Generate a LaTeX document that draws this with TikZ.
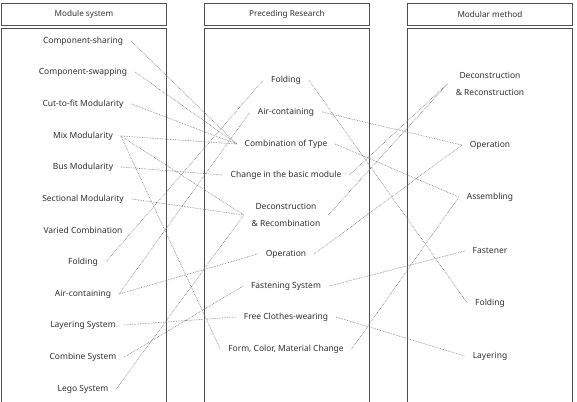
\documentclass[tikz,border=0pt]{standalone}
\usepackage{fontspec}
\setmainfont{Noto Sans}
\usetikzlibrary{positioning}
\definecolor{ink}{HTML}{2E2E2E}
\definecolor{rule}{HTML}{4D4D4D}
\definecolor{wire}{HTML}{7A7A7A}

\begin{document}
\begin{tikzpicture}[x=1bp,y=-1bp,
  head/.style={draw=rule,line width=0.9bp,minimum width=165bp,minimum height=22bp,
               anchor=north west,inner sep=0pt,text=ink,font=\fontsize{8.2}{9}\selectfont},
  body/.style={draw=rule,line width=0.9bp,minimum width=165bp,minimum height=374bp,
               anchor=north west,inner sep=0pt},
  item/.style={align=center,inner xsep=3bp,inner ysep=1bp,outer xsep=5bp,
               text=ink,font=\fontsize{8.5}{17}\selectfont},
  link/.style={wire,densely dotted,line width=0.65bp}]
\useasboundingbox (0,0) rectangle (577,401);

% column frames
\node[head] (lhead) at (1,3) {Module system};
\node[body] (lbody) at (1,28) {};
\node[head] (mhead) at (204,3) {Preceding Research};
\node[body] (mbody) at (204,28) {};
\node[head] (rhead) at (407,3) {Modular method};
\node[body] (rbody) at (407,28) {};

% module system
\node[item] (lshare) at (83,41) {Component-sharing};
\node[item] (lswap) at (83,72) {Component-swapping};
\node[item] (lcut) at (83,104) {Cut-to-fit Modularity};
\node[item] (lmix) at (83,136) {Mix Modularity};
\node[item] (lbus) at (83,167) {Bus Modularity};
\node[item] (lsect) at (83,199) {Sectional Modularity};
\node[item] (lvaried) at (83,230) {Varied Combination};
\node[item] (lfold) at (83,262) {Folding};
\node[item] (lair) at (83,294) {Air-containing};
\node[item] (llayer) at (83,325) {Layering System};
\node[item] (lcombine) at (83,357) {Combine System};
\node[item] (llego) at (83,389) {Lego System};

% preceding research
\node[item] (mfold) at (286,80) {Folding};
\node[item] (mair) at (286,112) {Air-containing};
\node[item] (mtype) at (286,144) {Combination of Type};
\node[item] (mchange) at (286,175) {Change in the basic module};
\node[item] (mdecon) at (286,215) {Deconstruction\\\& Recombination};
\node[item] (mop) at (286,254) {Operation};
\node[item] (mfasten) at (286,286) {Fastening System};
\node[item] (mfree) at (286,317) {Free Clothes-wearing};
\node[item] (mform) at (286,349) {Form, Color, Material Change};

% modular method
\node[item] (rdecon) at (490,83.5) {Deconstruction\\\& Reconstruction};
\node[item] (rop) at (490,145) {Operation};
\node[item] (rassem) at (490,197) {Assembling};
\node[item] (rfasten) at (490,251) {Fastener};
\node[item] (rfold) at (490,303) {Folding};
\node[item] (rlayer) at (490,356) {Layering};

% links, left to middle
\draw[link] (lshare.east) -- (mtype.west);
\draw[link] (lswap.east) -- (mtype.west);
\draw[link] (lcut.east) -- (mtype.west);
\draw[link] (lmix.east) -- (mtype.west);
\draw[link] (lmix.east) -- (mdecon.west);
\draw[link] (lmix.east) -- (mform.west);
\draw[link] (lbus.east) -- (mchange.west);
\draw[link] (lsect.east) -- (mdecon.west);
\draw[link] (lfold.east) -- (mfold.west);
\draw[link] (lair.east) -- (mair.west);
\draw[link] (lair.east) -- (mop.west);
\draw[link] (llayer.east) -- (mfree.west);
\draw[link] (lcombine.east) -- (mfasten.west);
\draw[link] (llego.east) -- (mdecon.west);

% links, middle to right
\draw[link] (mfold.east) -- (rfold.west);
\draw[link] (mair.east) -- (rop.west);
\draw[link] (mtype.east) -- (rassem.west);
\draw[link] (mchange.east) -- (rdecon.west);
\draw[link] (mdecon.east) -- (rdecon.west);
\draw[link] (mop.east) -- (rop.west);
\draw[link] (mfasten.east) -- (rfasten.west);
\draw[link] (mfree.east) -- (rlayer.west);
\draw[link] (mform.east) -- (rassem.west);
\end{tikzpicture}
\end{document}
